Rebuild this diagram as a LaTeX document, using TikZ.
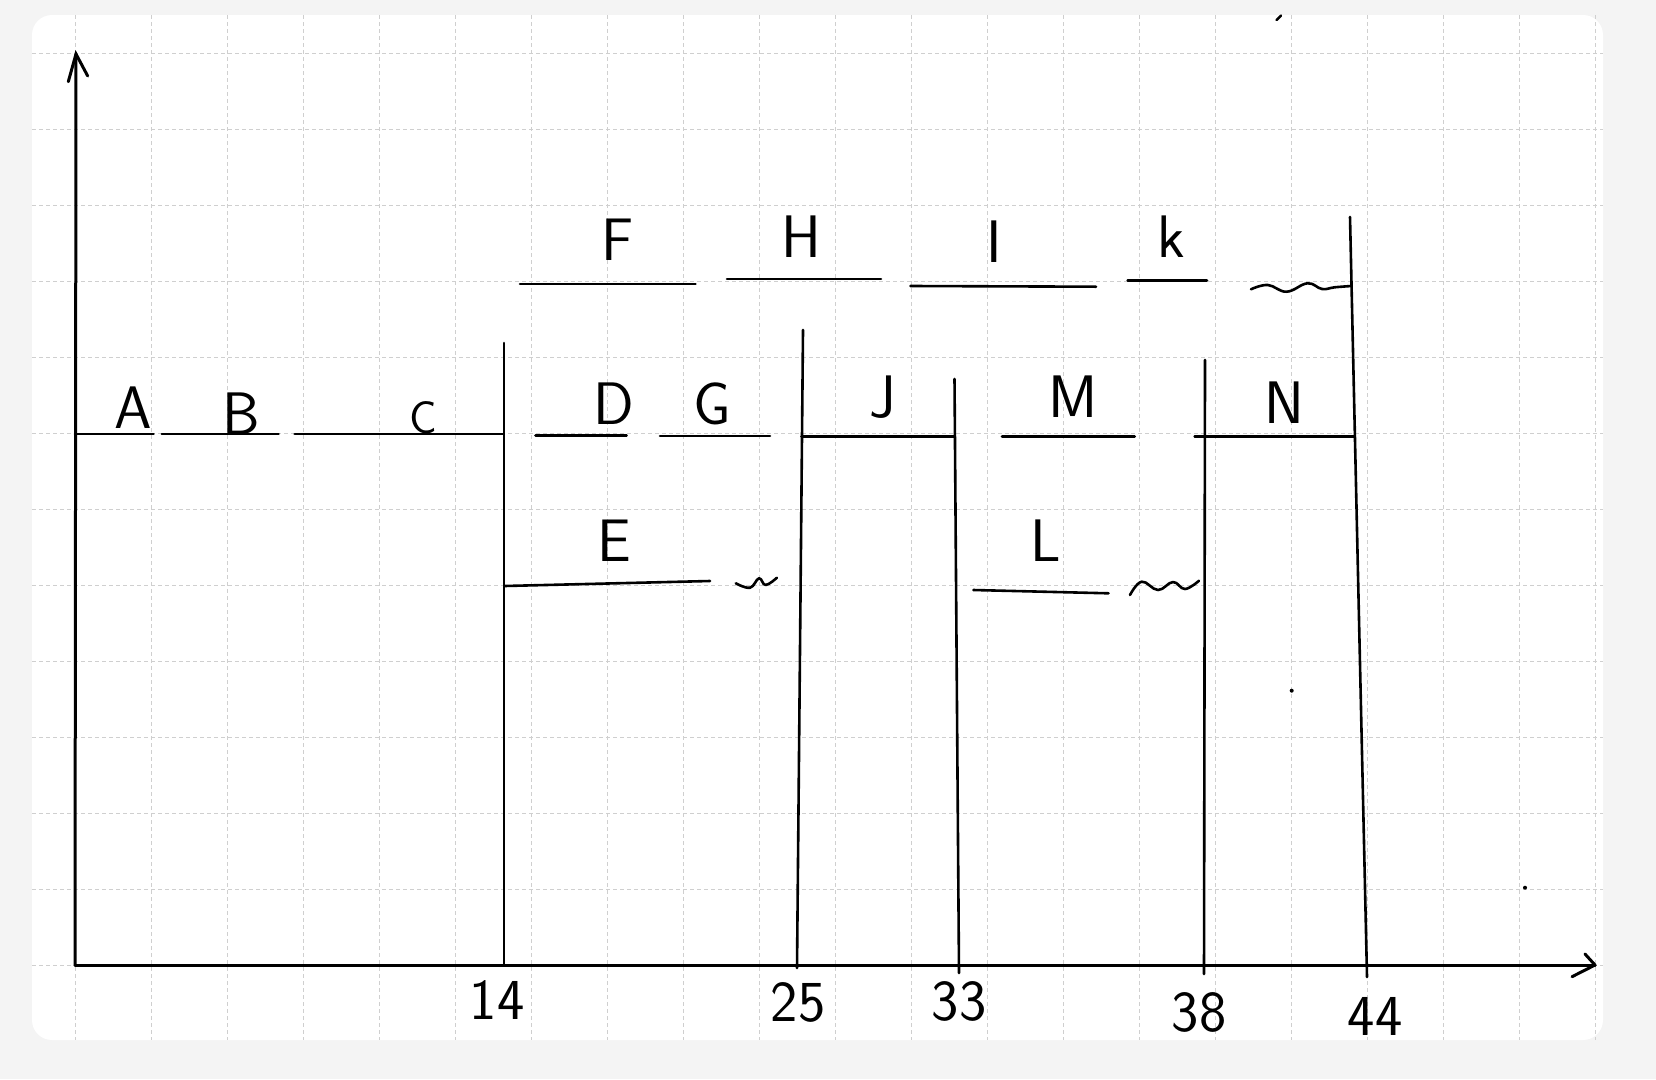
\documentclass[tikz,border=0pt]{standalone}
\usepackage{fontspec}
\definecolor{pagebg}{HTML}{F4F4F4}
\definecolor{gridc}{HTML}{CFCFCF}
\tikzset{
  ink/.style={line width=2.6pt, black, line cap=round, line join=round},
  axisline/.style={line width=3pt, black, line cap=round},
  gridline/.style={gridc, line width=1pt, dash pattern=on 4pt off 3pt},
  lbl/.style={inner sep=0pt, font=\sffamily\fontsize{60}{60}\selectfont},
  smalllbl/.style={inner sep=0pt, font=\sffamily\fontsize{46}{46}\selectfont},
  numlbl/.style={inner sep=0pt, font=\sffamily\fontsize{58}{58}\selectfont},
}
\begin{document}
\begin{tikzpicture}[x=1pt, y=-1pt]
\useasboundingbox (0,0) rectangle (1656,1079);
% page background and white sheet
\fill[pagebg] (0,0) rectangle (1656,1079);
\fill[white, rounded corners=20pt] (32,15) rectangle (1603,1040);
% grid
\foreach \k in {0,...,20} {
  \draw[gridline] ({75.7+76*\k},15) -- ({75.7+76*\k},1040);
}
\foreach \k in {0,...,12} {
  \draw[gridline] (32,{53.3+76*\k}) -- (1603,{53.3+76*\k});
}
% axes
\coordinate (O) at (75,965);
\coordinate (Ytop) at (76,54);
\coordinate (Xend) at (1595,965);
\draw[axisline] (O) -- (Ytop);
\draw[axisline] (68.3,81.7) -- (Ytop) -- (87.7,76);
\draw[axisline] (O) -- (Xend);
\draw[axisline, line join=round] (1585,954) -- (Xend) -- (1572,976.7);
% vertical dividers
\coordinate (v14t) at (504,343);   \coordinate (v14b) at (504,964);
\coordinate (v25t) at (803,330);   \coordinate (v25b) at (797,968);
\coordinate (v33t) at (954.5,379); \coordinate (v33b) at (959,973);
\coordinate (v38t) at (1205,360);  \coordinate (v38b) at (1204,974);
\coordinate (v44t) at (1350,217);  \coordinate (v44b) at (1367,977);
\draw[ink] (v14t) -- (v14b);
\draw[ink] (v25t) -- (v25b);
\draw[ink] (v33t) -- (v33b);
\draw[ink] (v38t) -- (v38b);
\draw[ink] (v44t) -- (v44b);
% main row segments
\draw[ink] (75,434) -- (153.6,434);
\draw[ink] (161.8,434) -- (278.6,434);
\draw[ink] (294.6,434) -- (503.6,434);
\draw[ink] (535.5,435.7) -- (626.6,435.7);
\draw[ink] (660,436) -- (770,436);
\draw[ink] (801.5,436.7) -- (954.5,436.7);
\draw[ink] (1002,436.7) -- (1134.7,436.7);
\draw[ink] (1194.6,436.7) -- (1354.8,436.7);
% upper row segments
\draw[ink] (520,284) -- (695.5,284);
\draw[ink] (727,279) -- (881,279);
\draw[ink] (910.5,286) -- (1096,286.7);
\draw[ink] (1127.6,280.7) -- (1207,280.7);
% lower row segments
\draw[ink] (504.5,586) -- (710,581);
\draw[ink] (973.3,590) -- (1108.6,593.3);
% wavy strokes
\draw[ink] plot[smooth, tension=0.7] coordinates {(1251,289.3) (1267.8,285) (1286.6,291.7) (1307.5,283.3) (1322,289) (1334.7,287.3) (1351.5,286)};
\draw[ink] plot[smooth, tension=0.7] coordinates {(735.8,583.3) (750,587.7) (759,578.3) (765.7,585) (776.9,577.7)};
\draw[ink] plot[smooth, tension=0.7] coordinates {(1130,595) (1141.7,581.7) (1158,590) (1173,582) (1185,589) (1199,580.7)};
% labels
\node[lbl] (lA) at (133,408) {A};
\node[lbl] (lB) at (241,414) {B};
\node[smalllbl] (lC) at (423,418) {C};
\node[lbl] (lD) at (614,404) {D};
\node[lbl] (lG) at (712,404) {G};
\node[lbl] (lJ) at (883,397) {J};
\node[lbl] (lM) at (1073,397) {M};
\node[lbl] (lN) at (1284,403) {N};
\node[lbl] (lF) at (618,240) {F};
\node[lbl] (lH) at (801,237) {H};
\node[lbl] (lI) at (994,242) {I};
\node[lbl] (lK) at (1171,237) {k};
\node[lbl] (lE) at (614,541) {E};
\node[lbl] (lL) at (1046,541) {L};
% axis numbers
\node[numlbl] (n14) at (497,1000) {14};
\node[numlbl] (n25) at (798,1002) {25};
\node[numlbl] (n33) at (959,1001) {33};
\node[numlbl] (n38) at (1199,1012) {38};
\node[numlbl] (n44) at (1375,1016) {44};
% stray marks
\draw[line width=2.5pt, line cap=round] (1276.5,20) -- (1281,15.5);
\fill (1291.7,690.7) circle (2pt);
\fill (1525,887.7) circle (2pt);
\end{tikzpicture}
\end{document}
